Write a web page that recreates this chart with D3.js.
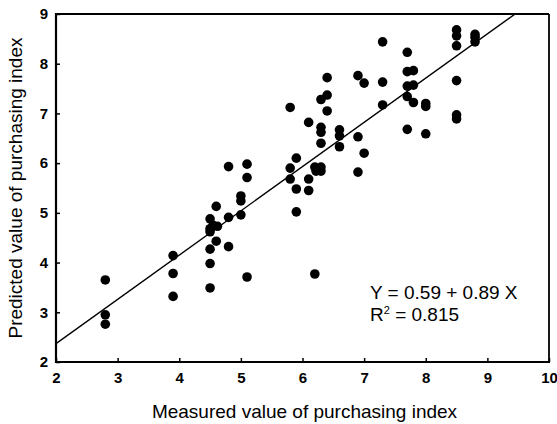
<!DOCTYPE html>
<html>
<head>
<meta charset="utf-8">
<script src="https://cdn.jsdelivr.net/npm/d3@7"></script>
<style>
  html, body { margin: 0; padding: 0; background: #fff; }
  svg { display: block; font-family: "Liberation Sans", Arial, Helvetica, sans-serif; }
</style>
</head>
<body>
<svg id="chart" width="557" height="424"></svg>
<script>
// ---- data ----
const measured = [
  2.8, 2.8, 2.8,
  3.9, 3.9, 3.9,
  4.5, 4.5, 4.55, 4.5, 4.62,
  4.6, 4.6, 4.5, 4.5, 4.5,
  4.8, 4.8,
  5.0, 5.0, 5.0,
  5.1,
  4.8, 5.1, 5.1,
  5.8, 5.9, 5.8, 5.8, 6.1, 5.9, 6.1, 5.9, 6.2,
  6.1, 6.3, 6.3, 6.3, 6.6, 6.6, 6.6,
  6.2, 6.3, 6.22, 6.3,
  6.3, 6.4, 6.4, 6.4,
  6.9, 7.0, 6.9, 7.0, 6.9,
  7.3, 7.3, 7.3,
  7.7, 7.7, 7.8, 7.7, 7.8, 7.7, 7.8, 7.7,
  8.0, 8.0, 8.0,
  8.5, 8.5, 8.5, 8.5, 8.5, 8.5,
  8.8, 8.8, 8.8
];
const predicted = [
  3.65, 2.95, 2.76,
  4.14, 3.78, 3.32,
  4.88, 4.68, 4.75, 4.62, 4.73,
  5.13, 4.43, 4.27, 3.98, 3.49,
  4.91, 4.32,
  5.34, 5.24, 4.96,
  3.71,
  5.93, 5.98, 5.71,
  7.12, 6.10, 5.90, 5.68, 5.68, 5.48, 5.45, 5.02, 3.77,
  6.82, 6.72, 6.62, 6.40, 6.67, 6.55, 6.33,
  5.92, 5.92, 5.84, 5.84,
  7.28, 7.72, 7.37, 7.05,
  7.76, 7.61, 6.53, 6.20, 5.82,
  8.44, 7.63, 7.17,
  8.23, 7.84, 7.86, 7.55, 7.57, 7.34, 7.22, 6.68,
  7.20, 7.14, 6.59,
  8.68, 8.56, 8.36, 7.66, 6.97, 6.89,
  8.59, 8.53, 8.44
];
const xTicks = [2, 3, 4, 5, 6, 7, 8, 9, 10];
const yTicks = [2, 3, 4, 5, 6, 7, 8, 9];
const intercept = 0.59;
const slope = 0.89;
const equationText = "Y = 0.59 + 0.89 X";
const r2Value = "0.815";
const xTitle = "Measured value of purchasing index";
const yTitle = "Predicted value of purchasing index";

// ---- layout ----
const svg = d3.select("#chart");
const pL = 56, pR = 549, pT = 14, pB = 362;

const x = d3.scaleLinear().domain([2, 10]).range([pL, pR]);
const y = d3.scaleLinear().domain([2, 9]).range([pB, pT]);

// clip for regression line
svg.append("defs").append("clipPath").attr("id", "plotclip")
  .append("rect").attr("x", pL).attr("y", pT)
  .attr("width", pR - pL).attr("height", pB - pT);

// regression line
const lineData = [2, 10].map(v => [v, intercept + slope * v]);
svg.append("path")
  .attr("clip-path", "url(#plotclip)")
  .attr("d", d3.line().x(d => x(d[0])).y(d => y(d[1]))(lineData))
  .attr("fill", "none").attr("stroke", "#000").attr("stroke-width", 1.4);

// points
const pts = measured.map((m, i) => [m, predicted[i]]);
svg.append("g").selectAll("circle").data(pts).join("circle")
  .attr("cx", d => x(d[0])).attr("cy", d => y(d[1]))
  .attr("r", 4.8).attr("fill", "#000");

// axes
const xAxis = svg.append("g").attr("transform", `translate(0,${pB})`)
  .call(d3.axisBottom(x).tickValues(xTicks).tickSizeInner(-4).tickSizeOuter(0).tickPadding(10).tickFormat(d3.format("d")));
const yAxis = svg.append("g").attr("transform", `translate(${pL},0)`)
  .call(d3.axisLeft(y).tickValues(yTicks).tickSizeInner(-4).tickSizeOuter(0).tickPadding(8).tickFormat(d3.format("d")));

[xAxis, yAxis].forEach(g => {
  g.select(".domain").remove();
  g.selectAll(".tick line").attr("stroke", "#000").attr("stroke-width", 1.5);
  g.selectAll(".tick text").attr("fill", "#000")
    .style("font-size", "15px").style("font-weight", "bold")
    .style("font-family", "'Liberation Sans', Arial, sans-serif");
});
xAxis.selectAll(".tick text").attr("dy", "0.71em");

// frame
svg.append("line").attr("x1", pL).attr("x2", pL).attr("y1", pT - 1).attr("y2", pB + 1)
  .attr("stroke", "#000").attr("stroke-width", 2.2);
svg.append("line").attr("x1", pL - 1).attr("x2", pR + 1).attr("y1", pB).attr("y2", pB)
  .attr("stroke", "#000").attr("stroke-width", 2.2);
svg.append("line").attr("x1", pL).attr("x2", pR).attr("y1", pT).attr("y2", pT)
  .attr("stroke", "#000").attr("stroke-width", 1.8);
svg.append("line").attr("x1", pR).attr("x2", pR).attr("y1", pT).attr("y2", pB)
  .attr("stroke", "#000").attr("stroke-width", 1.8);

// titles
svg.append("text").attr("x", (pL + pR) / 2 + 2).attr("y", 418)
  .attr("text-anchor", "middle").style("font-size", "19px").attr("fill", "#000")
  .text(xTitle);
svg.append("text").attr("transform", `translate(22,${(pT + pB) / 2}) rotate(-90)`)
  .attr("text-anchor", "middle").style("font-size", "19px").attr("fill", "#000")
  .text(yTitle);

// equation annotation
svg.append("text").attr("x", 370).attr("y", 299)
  .style("font-size", "19px").attr("fill", "#000").text(equationText);
const r2 = svg.append("text").attr("x", 370).attr("y", 321)
  .style("font-size", "19px").attr("fill", "#000");
r2.append("tspan").text("R");
r2.append("tspan").attr("dy", -7).style("font-size", "11px").text("2");
r2.append("tspan").attr("dy", 7).text(" = " + r2Value);
</script>
</body>
</html>
